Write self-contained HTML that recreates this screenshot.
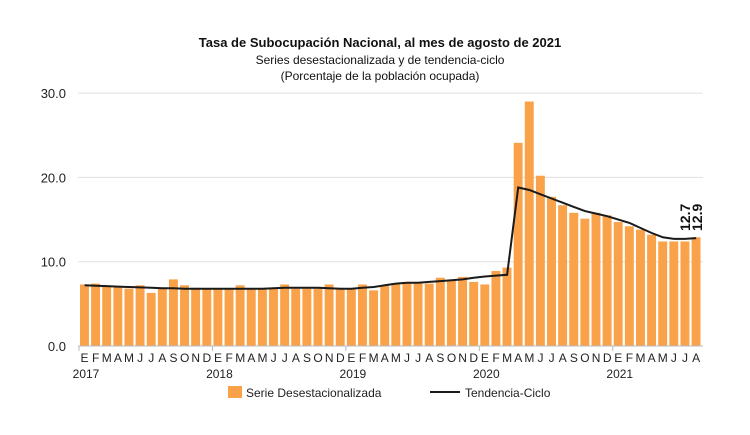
<!DOCTYPE html>
<html><head><meta charset="utf-8"><style>
body{margin:0;background:#fff;width:750px;height:430px;overflow:hidden;font-family:"Liberation Sans",sans-serif}
</style></head><body>
<svg id="s" width="750" height="430" xmlns="http://www.w3.org/2000/svg" font-family="Liberation Sans, sans-serif">
<text x="380" y="47" text-anchor="middle" font-size="13" font-weight="bold" fill="#111">Tasa de Subocupación Nacional, al mes de agosto de 2021</text>
<text x="380" y="64" text-anchor="middle" font-size="12" fill="#111">Series desestacionalizada y de tendencia-ciclo</text>
<text x="380" y="80" text-anchor="middle" font-size="12" fill="#111">(Porcentaje de la población ocupada)</text>
</svg>
<script>
const s=document.getElementById('s');const NS='http://www.w3.org/2000/svg';
function el(t,a,txt){const e=document.createElementNS(NS,t);for(const k in a)e.setAttribute(k,a[k]);if(txt!==undefined)e.textContent=txt;s.appendChild(e);return e;}
const y0=346,sc=8.43,x0=79,w=11.12;
const Y=v=>y0-v*sc;
[10,20,30].forEach(v=>el('line',{x1:78,x2:703,y1:Y(v),y2:Y(v),stroke:'#e0e0e0','stroke-width':1}));
[0,10,20,30].forEach(v=>el('text',{x:66,y:Y(v)+5,'text-anchor':'end','font-size':13,fill:'#222'},v.toFixed(1)));
const bars=[7.3,7.4,7.1,7.0,6.8,7.2,6.3,6.8,7.9,7.2,6.9,6.8,
6.8,6.7,7.2,6.8,6.8,6.9,7.3,6.8,6.8,6.8,7.3,6.9,
6.8,7.3,6.6,7.2,7.4,7.6,7.6,7.4,8.1,7.8,8.2,7.6,
7.3,8.9,9.3,24.1,29.0,20.2,17.7,16.7,15.8,15.1,15.8,15.5,
14.7,14.2,13.8,13.2,12.4,12.4,12.4,12.9];
const tr=[7.2,7.15,7.1,7.05,7.0,6.95,6.9,6.85,6.85,6.8,6.8,6.8,
6.8,6.8,6.8,6.8,6.8,6.85,6.9,6.9,6.9,6.9,6.85,6.8,
6.8,6.9,7.0,7.2,7.4,7.5,7.5,7.6,7.7,7.8,7.9,8.1,
8.25,8.35,8.45,18.8,18.5,18.0,17.5,17.0,16.5,16.0,15.7,15.4,
15.0,14.6,14.0,13.4,12.9,12.7,12.7,12.8];
bars.forEach((v,i)=>el('rect',{x:x0+i*w+1,y:Y(v),width:w-2.2,height:v*sc,fill:'#f9a24a'}));
el('polyline',{points:tr.map((v,i)=>(x0+i*w+w/2).toFixed(1)+','+Y(v).toFixed(1)).join(' '),fill:'none',stroke:'#1a1a1a','stroke-width':2});
el('line',{x1:78,x2:703,y1:y0,y2:y0,stroke:'#bbb'});
const m='EFMAMJJASOND';
for(let i=0;i<56;i++)el('text',{x:x0+i*w+w/2,y:362,'text-anchor':'middle','font-size':12,fill:'#222'},m[i%12]);
for(let k=0;k<5;k++){const x=x0+k*12*w;el('line',{x1:x,x2:x,y1:y0,y2:y0+5,stroke:'#bbb'});
el('text',{x:x+7,y:378,'text-anchor':'middle','font-size':12,fill:'#222'},2017+k);}
const lab=(x,y,t)=>{el('text',{x:x,y:y,'font-size':14,'font-weight':'bold',fill:'#111',transform:`rotate(-90 ${x} ${y})`},t);};
lab(690,231,'12.7');lab(702,231,'12.9');
el('rect',{x:228,y:386,width:14,height:12,fill:'#f9a24a'});
el('text',{x:246,y:397,'font-size':12,fill:'#222'},'Serie Desestacionalizada');
el('line',{x1:430,x2:460,y1:392,y2:392,stroke:'#1a1a1a','stroke-width':2});
el('text',{x:465,y:397,'font-size':12,fill:'#222'},'Tendencia-Ciclo');
</script>
</body></html>
